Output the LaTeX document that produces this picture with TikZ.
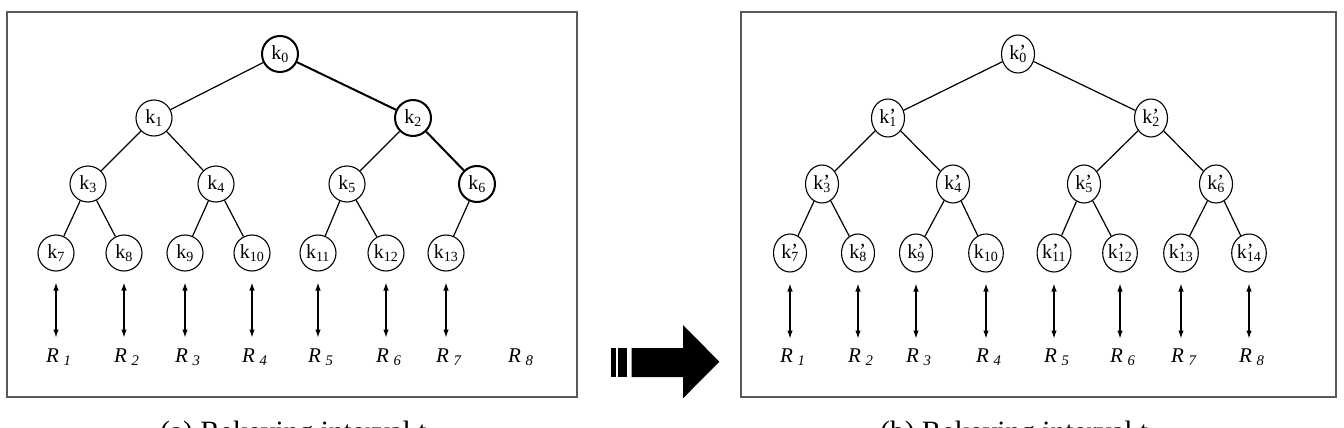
\documentclass[tikz,border=0pt]{standalone}
\usepackage{fontspec}
\setmainfont{Liberation Serif}
\usetikzlibrary{arrows.meta,shapes.geometric,calc}
\newcommand\kl[1]{k\textsubscript{#1}}
\newcommand\kpl[1]{k\rlap{\raisebox{0.04em}{’}}\textsubscript{#1}}
\newcommand\rl[1]{R\hspace{4.5pt}\textsubscript{#1}}
\tikzset{
  knode/.style={circle, draw, line width=1.1pt, minimum size=36pt, inner sep=0pt, font=\fontsize{20}{22}\selectfont},
  kpnode/.style={ellipse, draw, line width=1.1pt, minimum width=33pt, minimum height=38pt, inner sep=0pt, font=\fontsize{20}{22}\selectfont},
  hl/.style={line width=2pt},
  edge/.style={line width=1.2pt},
  hedge/.style={line width=2pt},
  rarrow/.style={{Latex[length=8pt,width=5.5pt]}-{Latex[length=8pt,width=5.5pt]}, line width=1.2pt},
  rlabel/.style={font=\fontsize{21}{23}\selectfont\itshape, anchor=base west, inner sep=0pt},
  frame/.style={draw=black!65, line width=1.8pt},
  caption/.style={font=\fontsize{29.5}{32}\selectfont, anchor=base west, inner sep=0pt},
}
\begin{document}
\begin{tikzpicture}[x=1pt,y=-1pt]
\useasboundingbox (0,0) rectangle (1344,428);
\fill[white] (0,0) rectangle (1344,428);
% frames
\draw[frame] (7,12) rectangle (577,397);
\draw[frame] (741,12) rectangle (1336,397);
% big arrow
\fill (610.7,348) rectangle (616,377);
\fill (618.3,348) rectangle (626.7,377);
\fill (631.7,348) -- (683,348) -- (683,325) -- (719.3,361.7) -- (683,398.3) -- (683,377) -- (631.7,377) -- cycle;
% left tree
\node[knode,hl] (a0) at (280,54) {\kl{0}};
\node[knode] (a1) at (154,118) {\kl{1}};
\node[knode,hl] (a2) at (413,118) {\kl{2}};
\node[knode] (a3) at (88,184) {\kl{3}};
\node[knode] (a4) at (216,184) {\kl{4}};
\node[knode] (a5) at (347,184) {\kl{5}};
\node[knode,hl] (a6) at (477,184) {\kl{6}};
\node[knode] (a7) at (56,253) {\kl{7}};
\node[knode] (a8) at (124,253) {\kl{8}};
\node[knode] (a9) at (185,253) {\kl{9}};
\node[knode] (a10) at (252,253) {\kl{10}};
\node[knode] (a11) at (318,253) {\kl{11}};
\node[knode] (a12) at (386,253) {\kl{12}};
\node[knode] (a13) at (446,253) {\kl{13}};
\draw[edge] (a0) -- (a1);
\draw[hedge] (a0) -- (a2);
\draw[edge] (a1) -- (a3);
\draw[edge] (a1) -- (a4);
\draw[edge] (a2) -- (a5);
\draw[hedge] (a2) -- (a6);
\draw[edge] (a3) -- (a7);
\draw[edge] (a3) -- (a8);
\draw[edge] (a4) -- (a9);
\draw[edge] (a4) -- (a10);
\draw[edge] (a5) -- (a11);
\draw[edge] (a5) -- (a12);
\draw[edge] (a6) -- (a13);
\foreach \n/\i in {a7/1,a8/2,a9/3,a10/4,a11/5,a12/6,a13/7}{
  \draw[rarrow] ([yshift=-11pt]\n.south) -- ([yshift=-66pt]\n.south);
  \node[rlabel] (ra\i) at ($(\n.center |- 0,362)+(-10,0)$) {\rl{\i}};
}
\node[rlabel] (ra8) at (508,362) {\rl{8}};
% right tree
\node[kpnode] (b0) at (1018,54) {\kpl{0}};
\node[kpnode] (b1) at (888,118) {\kpl{1}};
\node[kpnode] (b2) at (1151,118) {\kpl{2}};
\node[kpnode] (b3) at (822,184) {\kpl{3}};
\node[kpnode] (b4) at (953,184) {\kpl{4}};
\node[kpnode] (b5) at (1084,184) {\kpl{5}};
\node[kpnode] (b6) at (1216,184) {\kpl{6}};
\node[kpnode] (b7) at (790,253) {\kpl{7}};
\node[kpnode] (b8) at (858,253) {\kpl{8}};
\node[kpnode] (b9) at (916,253) {\kpl{9}};
\node[kpnode] (b10) at (986,253) {\kl{10}};
\node[kpnode] (b11) at (1054,253) {\kpl{11}};
\node[kpnode] (b12) at (1120,253) {\kpl{12}};
\node[kpnode] (b13) at (1181,253) {\kpl{13}};
\node[kpnode] (b14) at (1249,253) {\kpl{14}};
\draw[edge] (b0) -- (b1);
\draw[edge] (b0) -- (b2);
\draw[edge] (b1) -- (b3);
\draw[edge] (b1) -- (b4);
\draw[edge] (b2) -- (b5);
\draw[edge] (b2) -- (b6);
\draw[edge] (b3) -- (b7);
\draw[edge] (b3) -- (b8);
\draw[edge] (b4) -- (b9);
\draw[edge] (b4) -- (b10);
\draw[edge] (b5) -- (b11);
\draw[edge] (b5) -- (b12);
\draw[edge] (b6) -- (b13);
\draw[edge] (b6) -- (b14);
\foreach \n/\i in {b7/1,b8/2,b9/3,b10/4,b11/5,b12/6,b13/7,b14/8}{
  \draw[rarrow] ([yshift=-11pt]\n.south) -- ([yshift=-66pt]\n.south);
  \node[rlabel] (rb\i) at ($(\n.center |- 0,362)+(-10,0)$) {\rl{\i}};
}
% captions (cut by the page edge)
\node[caption] (capa) at (160,441) {(a) Rekeying interval t};
\node[caption] (capb) at (880,441) {(b) Rekeying interval t};
\end{tikzpicture}
\end{document}
